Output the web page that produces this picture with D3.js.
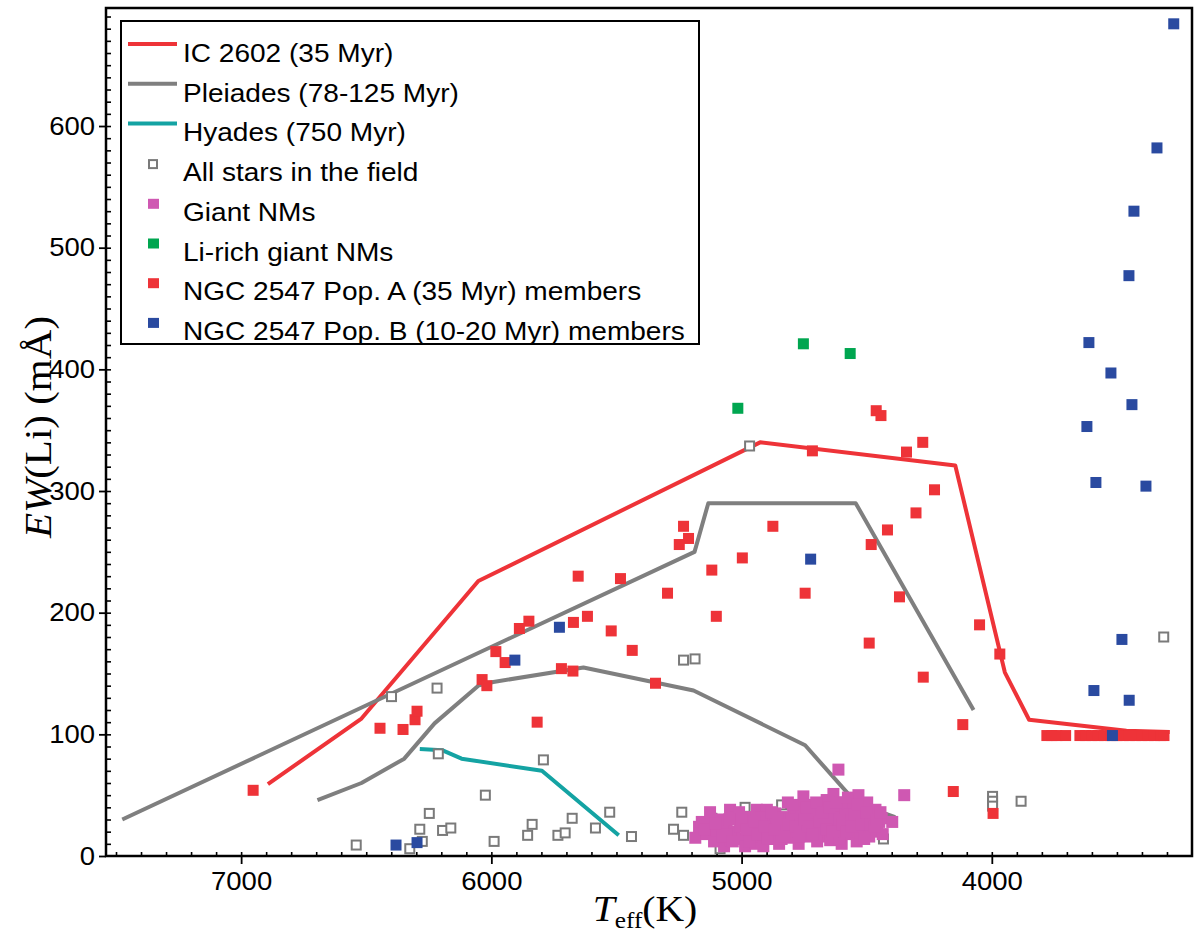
<!DOCTYPE html>
<html>
<head>
<meta charset="utf-8">
<script src="https://cdn.jsdelivr.net/npm/d3@7"></script>
<style>
  body { margin: 0; background: #fff; }
  svg { display: block; }
</style>
</head>
<body>
<svg width="1200" height="935"></svg>
<script>
// ---- data: [Teff (K), EW(Li) (mA)] ----
const ic2602Line = [[6893,59],[6519,113],[6052,226],[4926,340],[4146,321],[3948,151],[3851,112],[3462,103],[3289,102]];
const pleiadesUpper = [[7475,30],[5188,250],[5133,290],[4544,290],[4073,120]];
const pleiadesLower = [[6695,46],[6519,60],[6348,80],[6227,109],[6052,140],[5992,143],[5632,155],[5192,136],[4746,91],[4539,43],[4386,32]];
const hyadesLine = [[6286,88],[6197,87],[6119,80],[5798,70],[5491,17]];

const fieldStars = [[6540,9],[6326,6],[6276,12],[6286,22],[6248,35],[6195,21],[6162,23],[6212,84],[6217,138],[6399,131],
  [6024,50],[5989,12],[5792,79],[5855,17],[5837,26],[5734,17],[5705,19],[5677,31],[5584,23],[5527,36],[5440,16],
  [5239,36],[5272,22],[5232,17],[5046,38],[4986,40],[4840,42],[4793,36],[5119,31],[5146,20],[5086,6],[4433,14],
  [5232,161],[5186,162],[4968,337],[3997,49],[3997,45],[3997,41],[3883,45],[3313,180]];

const giantNMs = [[5185,15],[5170,24],[5159,28],[5140,18],[5126,36],[5110,12],[5099,21],[5085,30],[5070,8],[5060,26],
  [5046,38],[5046,13],[5030,20],[5020,32],[5006,24],[4995,14],[4986,8],[4975,28],[4966,32],[4955,20],[4945,10],[4939,38],
  [4930,26],[4926,16],[4913,8],[4905,30],[4899,38],[4890,22],[4880,14],[4873,27],[4865,35],[4859,19],[4850,10],[4845,28],
  [4833,32],[4825,24],[4815,44],[4806,21],[4798,15],[4790,34],[4779,40],[4772,10],[4766,28],[4760,36],[4753,49],[4745,22],
  [4738,30],[4726,16],[4720,42],[4713,25],[4706,32],[4698,12],[4692,38],[4686,42],[4680,20],[4673,24],[4666,34],[4660,46],
  [4653,16],[4646,13],[4640,28],[4633,51],[4626,38],[4619,32],[4612,22],[4605,44],[4600,10],[4593,21],[4586,36],[4579,43],
  [4572,28],[4566,18],[4559,30],[4552,40],[4545,24],[4540,12],[4533,50],[4526,19],[4520,33],[4513,38],[4505,26],[4498,44],
  [4490,16],[4480,20],[4473,32],[4465,38],[4458,24],[4450,28],[4440,31],[4436,18],
  [5120,30],[5060,18],[5010,36],[4960,18],[4920,32],[4880,36],[4840,14],[4800,30],[4760,20],[4730,36],[4700,20],[4650,30],
  [4610,14],[4570,34],[4530,30],[4495,30],
  [5150,22],[5105,27],[5075,16],[5050,30],[5035,12],[5000,30],[4982,22],[4968,12],[4950,28],[4935,18],[4910,24],[4895,14],
  [4868,22],[4855,30],[4828,16],[4812,26],[4795,42],[4785,24],[4770,16],[4750,30],[4740,40],[4732,24],[4715,18],[4702,44],
  [4690,28],[4676,36],[4662,22],[4648,40],[4636,20],[4622,44],[4608,30],[4596,26],[4582,20],[4575,48],[4560,24],[4548,34],
  [4538,42],[4522,26],[4510,14],[4500,36],[4485,26],[4470,24],[4462,30],[4445,36],
  [4613,71],[4350,50],[4398,28]];

const liRichGiants = [[4753,421],[4566,413],[5015,368]];

const popA = [[6952,54],[6445,105],[6353,104],[6305,112],[6297,119],[5817,110],
  [6037,145],[6018,140],[5982,168],[5945,159],[5850,193],[5888,187],[5720,154],[5674,152],[5672,192],[5616,197],[5653,230],
  [5521,185],[5484,228],[5437,169],[5344,142],[5296,216],[5232,271],[5212,261],[5249,256],
  [4875,271],[4997,245],[5119,235],[5101,197],[4746,216],[4717,333],[4462,366],[4443,362],[4276,340],[4341,332],[4229,301],
  [4303,282],[4417,268],[4482,256],[4369,213],[4049,190],[3968,166],[4490,175],[4274,147],[4116,108],[4154,53],[3995,35],
  [3780,99],[3760,99],[3740,99],[3705,99],[3648,99],[3625,99],[3600,99],[3575,99],[3550,99],[3525,99],[3500,99],
  [3475,99],[3450,99],[3425,99],[3400,99],[3375,99],[3350,99],[3325,99],[3312,99]];

const popB = [[3273,684],[3340,582],[3432,530],[3452,477],[3612,422],[3524,397],[3440,371],[3620,353],[3584,307],[3384,304],
  [3480,178],[3592,136],[3451,128],[3518,99],[4724,244],[5728,188],[5906,161],[6381,9],[6297,11]];

const xMajor = [7000, 6000, 5000, 4000];
const yMajor = [0, 100, 200, 300, 400, 500, 600];

const legendItems = [
  {label: "IC 2602 (35 Myr)", kind: "line", color: "#ee3338"},
  {label: "Pleiades (78-125 Myr)", kind: "line", color: "#7f7f7f"},
  {label: "Hyades (750 Myr)", kind: "line", color: "#14a3a3"},
  {label: "All stars in the field", kind: "open", color: "#7a7a7a"},
  {label: "Giant NMs", kind: "fill", color: "#cf58b2"},
  {label: "Li-rich giant NMs", kind: "fill", color: "#00a650"},
  {label: "NGC 2547 Pop. A (35 Myr) members", kind: "fill", color: "#ee3338"},
  {label: "NGC 2547 Pop. B (10-20 Myr) members", kind: "fill", color: "#2a4aa0"}
];

const svg = d3.select("svg");
const sans = "'Liberation Sans', Arial, sans-serif";
const serif = "'Liberation Serif', 'Times New Roman', serif";

const x = d3.scaleLinear().domain([7540, 3200]).range([106, 1192]);
const y = d3.scaleLinear().domain([0, 697]).range([856, 8]);

svg.append("rect").attr("width", 1200).attr("height", 935).attr("fill", "#fff");

// axes
const gx = svg.append("g").attr("transform", "translate(0,856)");
gx.call(d3.axisBottom(x).tickValues(d3.range(3300, 7550, 100)).tickSize(-4).tickFormat(""));
gx.call(g => g.selectAll(".tick line").attr("stroke-width", 1.6));
const gxMaj = svg.append("g").attr("transform", "translate(0,856)")
  .call(d3.axisBottom(x).tickValues(xMajor).tickSize(8).tickPadding(8).tickFormat(d3.format("d")));
gxMaj.selectAll(".tick line").attr("stroke-width", 1.8);
gxMaj.selectAll("text").attr("font-family", sans).attr("font-size", 25).attr("fill", "#000")
  .attr("transform", "scale(1.1,1)");

const gy = svg.append("g").attr("transform", "translate(106,0)");
gy.call(d3.axisLeft(y).tickValues(d3.range(10, 697, 10)).tickSize(-5).tickFormat(""));
gy.call(g => g.selectAll(".tick line").attr("stroke-width", 1.6));
const gyMaj = svg.append("g").attr("transform", "translate(106,0)")
  .call(d3.axisLeft(y).tickValues(yMajor).tickSize(7).tickPadding(3).tickFormat(d3.format("d")));
gyMaj.selectAll(".tick line").attr("stroke-width", 1.8);
gyMaj.selectAll("text").attr("font-family", sans).attr("font-size", 25).attr("fill", "#000")
  .attr("transform", "scale(1.1,1)");

svg.selectAll(".domain").remove();

// reference curves
const line = d3.line().x(d => x(d[0])).y(d => y(d[1]));
const curves = [
  {data: ic2602Line, color: "#ee3338"},
  {data: pleiadesUpper, color: "#7f7f7f"},
  {data: pleiadesLower, color: "#7f7f7f"},
  {data: hyadesLine, color: "#14a3a3"}
];
svg.append("g").selectAll("path").data(curves).join("path")
  .attr("d", d => line(d.data))
  .attr("fill", "none")
  .attr("stroke", d => d.color)
  .attr("stroke-width", 4)
  .attr("stroke-linejoin", "round");

// points
const S = 11;
svg.append("g").selectAll("rect").data(fieldStars).join("rect")
  .attr("x", d => x(d[0]) - 4.5).attr("y", d => y(d[1]) - 4.5)
  .attr("width", 9).attr("height", 9)
  .attr("fill", "#fff").attr("stroke", "#7a7a7a").attr("stroke-width", 2);

function squares(data, color, size) {
  svg.append("g").selectAll("rect").data(data).join("rect")
    .attr("x", d => x(d[0]) - size / 2).attr("y", d => y(d[1]) - size / 2)
    .attr("width", size).attr("height", size)
    .attr("fill", color);
}
squares(giantNMs, "#cf58b2", 12);
squares(liRichGiants, "#00a650", S);
squares(popA, "#ee3338", S);
squares(popB, "#2a4aa0", S);

// frame
svg.append("rect").attr("x", 106).attr("y", 8).attr("width", 1086).attr("height", 848)
  .attr("fill", "none").attr("stroke", "#000").attr("stroke-width", 2.5);

// legend
const lg = svg.append("g");
lg.append("rect").attr("x", 121).attr("y", 21).attr("width", 578).attr("height", 323)
  .attr("fill", "#fff").attr("stroke", "#000").attr("stroke-width", 2);
const rows = lg.selectAll("g.row").data(legendItems).join("g")
  .attr("class", "row")
  .attr("transform", (d, i) => `translate(0,${53 + i * 39.7})`);
rows.filter(d => d.kind === "line").append("line")
  .attr("x1", 128).attr("x2", 177).attr("y1", -9).attr("y2", -9)
  .attr("stroke", d => d.color).attr("stroke-width", 4);
rows.filter(d => d.kind === "open").append("rect")
  .attr("x", 149).attr("y", -12).attr("width", 8).attr("height", 8)
  .attr("fill", "#fff").attr("stroke", d => d.color).attr("stroke-width", 2);
rows.filter(d => d.kind === "fill").append("rect")
  .attr("x", 148).attr("y", -13).attr("width", 11).attr("height", 10)
  .attr("fill", d => d.color);
rows.append("text")
  .attr("transform", "translate(183,9) scale(1.1,1)")
  .attr("font-family", sans).attr("font-size", 25.5).attr("fill", "#000")
  .text(d => d.label);

// axis titles
const xt = svg.append("text")
  .attr("transform", "translate(645,921) scale(1.1,1)")
  .attr("text-anchor", "middle")
  .attr("font-family", serif).attr("font-size", 36).attr("fill", "#000");
xt.append("tspan").attr("font-style", "italic").text("T");
xt.append("tspan").attr("font-size", 23).attr("dy", 7).text("eff");
xt.append("tspan").attr("dy", -7).text("(K)");

const yt = svg.append("text")
  .attr("transform", "translate(51,427) rotate(-90) scale(1.08,1)")
  .attr("text-anchor", "middle")
  .attr("font-family", serif).attr("font-size", 38).attr("fill", "#000");
yt.append("tspan").attr("font-style", "italic").text("EW");
yt.append("tspan").text("(Li) (mÅ)");
</script>
</body>
</html>
